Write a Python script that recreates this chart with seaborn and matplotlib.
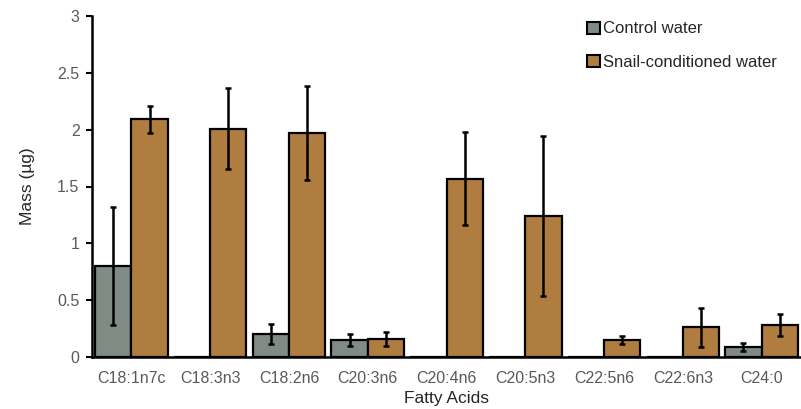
import numpy as np
import pandas as pd
import matplotlib.pyplot as plt
import seaborn as sns

acids = ['C18:1n7c', 'C18:3n3', 'C18:2n6', 'C20:3n6', 'C20:4n6',
         'C20:5n3', 'C22:5n6', 'C22:6n3', 'C24:0']
control_mean = [0.80, 0.0, 0.20, 0.15, 0.0, 0.0, 0.0, 0.0, 0.09]
control_err = [0.52, 0.0, 0.09, 0.05, 0.0, 0.0, 0.0, 0.0, 0.035]
snail_mean = [2.09, 2.01, 1.97, 0.16, 1.57, 1.24, 0.15, 0.26, 0.28]
snail_err = [0.12, 0.36, 0.41, 0.06, 0.41, 0.70, 0.035, 0.17, 0.095]
groups = ['Control water', 'Snail-conditioned water']

df = pd.DataFrame({
    'Fatty Acids': acids * 2,
    'Mass': control_mean + snail_mean,
    'err': control_err + snail_err,
    'Group': [groups[0]] * len(acids) + [groups[1]] * len(acids),
})

sns.set_style('white')
plt.rcParams['font.family'] = ['Liberation Sans', 'DejaVu Sans']

fig = plt.figure(figsize=(8.01, 4.09), dpi=100)
ax = fig.add_axes([92 / 801, 52 / 409, 709 / 801, 341 / 409])

palette = {groups[0]: '#7f8b84', groups[1]: '#b07d41'}
sns.barplot(data=df, x='Fatty Acids', y='Mass', hue='Group', palette=palette,
            width=0.92, errorbar=None, edgecolor='black', linewidth=1.6,
            saturation=1, ax=ax)

# error bars at bar centres
for container, means, errs in zip(ax.containers, [control_mean, snail_mean],
                                  [control_err, snail_err]):
    xs = [p.get_x() + p.get_width() / 2 for p in container.patches]
    for x, m, e in zip(xs, means, errs):
        if m > 0:
            ax.errorbar(x, m, yerr=e, color='black', lw=1.8, capsize=2.5,
                        capthick=1.8, zorder=5)

ax.set_ylim(0, 3)
ax.set_xlim(-0.5, len(acids) - 0.5)
ax.set_yticks([0, 0.5, 1, 1.5, 2, 2.5, 3])
ax.set_yticklabels(['0', '0.5', '1', '1.5', '2', '2.5', '3'])
ax.tick_params(axis='y', length=4, width=1.5, color='black', labelcolor='#595959',
               labelsize=11.5, left=True, pad=5)
ax.tick_params(axis='x', length=0, labelcolor='#595959', labelsize=11.5, pad=10)
sns.despine(ax=ax, top=True, right=True)
ax.spines['left'].set_linewidth(1.8)
ax.spines['bottom'].set_linewidth(1.8)
ax.spines['left'].set_color('black')
ax.spines['bottom'].set_color('black')

ax.set_ylabel('Mass (µg)', fontsize=12.5, labelpad=16)
ax.set_xlabel('Fatty Acids', fontsize=12.5, labelpad=4)

leg = ax.legend(loc='upper right', bbox_to_anchor=(0.987, 1.028), frameon=False,
                fontsize=12, handlelength=0.75, handleheight=0.75,
                handletextpad=0.2, labelspacing=1.1)
for h in leg.legend_handles:
    h.set_linewidth(1.5)
    h.set_edgecolor('black')

fig.savefig('out.png', dpi=100)
